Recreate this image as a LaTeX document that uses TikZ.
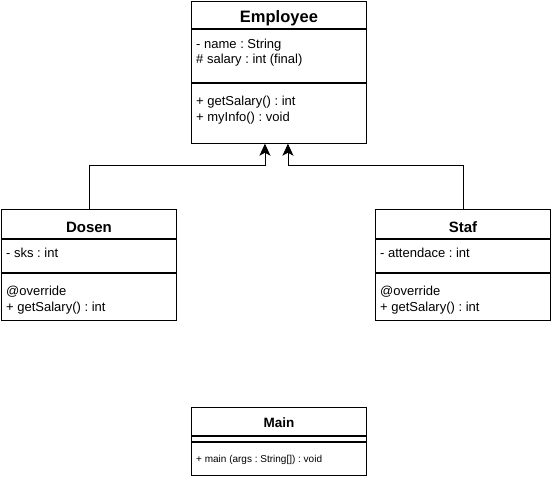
\documentclass[tikz,border=0pt]{standalone}
\usepackage{fontspec}
\setmainfont{Liberation Sans}
\usetikzlibrary{arrows.meta, positioning}
\frenchspacing

\tikzset{
  classhead/.style={draw=black, line width=0.9pt, minimum width=175pt, inner sep=0pt, font=\bfseries\fontsize{15}{17}\selectfont, text height=23pt, text depth=6pt},
  compart/.style={draw=black, line width=0.9pt, minimum width=175pt, inner sep=0pt},
  members/.style={inner sep=0pt, align=left, anchor=base west, font=\fontsize{13}{15.5}\selectfont},
  inherit/.style={line width=0.9pt, -{Stealth[length=12pt, width=11pt, inset=3pt]}}
}

\begin{document}
\begin{tikzpicture}[x=1pt, y=-1pt]
  \fill[white] (0,0) rectangle (553,478);
  \useasboundingbox (0,0) rectangle (553,478);

  % base anchor of a two-line text is the baseline of its last line
  \node[classhead, minimum height=27pt, anchor=north west, font=\bfseries\fontsize{16.5}{18}\selectfont, text height=21.5pt, text depth=5.5pt] (emphead) at (191,1) {Employee};
  \node[compart, minimum height=53pt, below=0pt of emphead] (empattr) {};
  \node[compart, minimum height=60pt, below=0pt of empattr] (empmeth) {};
  \node[members] (empattrtext) at ([shift={(5,35)}]empattr.north west) {- name : String\\\# salary : int (final)};
  \node[members] (empmethtext) at ([shift={(5,38.5)}]empmeth.north west) {+ getSalary() : int\\+ myInfo() : void};

  \node[classhead, minimum height=29pt, anchor=north west] (dosenhead) at (1,209) {Dosen};
  \node[compart, minimum height=33pt, below=0pt of dosenhead] (dosenattr) {};
  \node[compart, minimum height=47pt, below=0pt of dosenattr] (dosenmeth) {};
  \node[members] (dosenattrtext) at ([shift={(5,19)}]dosenattr.north west) {- sks : int};
  \node[members] (dosenmethtext) at ([shift={(5,38.5)}]dosenmeth.north west) {@override\\+ getSalary() : int};

  \node[classhead, minimum height=29pt, anchor=north west] (stafhead) at (375,209) {Staf};
  \node[compart, minimum height=33pt, below=0pt of stafhead] (stafattr) {};
  \node[compart, minimum height=47pt, below=0pt of stafattr] (stafmeth) {};
  \node[members] (stafattrtext) at ([shift={(5,19)}]stafattr.north west) {- attendace : int};
  \node[members] (stafmethtext) at ([shift={(5,38.5)}]stafmeth.north west) {@override\\+ getSalary() : int};

  \node[classhead, minimum height=28pt, anchor=north west, font=\bfseries\fontsize{13.5}{15}\selectfont, text height=20pt, text depth=8pt] (mainhead) at (191,407) {Main};
  \node[compart, minimum height=5pt, below=0pt of mainhead] (mainattr) {};
  \node[compart, minimum height=33pt, below=0pt of mainattr] (mainmeth) {};
  \node[members, font=\fontsize{10}{12}\selectfont] (mainmethtext) at ([shift={(5,21)}]mainmeth.north west) {+ main (args : String[]) : void};

  \draw[inherit] (dosenhead.north) -- ++(0,-44) -| ([xshift=-14pt]empmeth.south);
  \draw[inherit] (stafhead.north) -- ++(0,-44) -| ([xshift=9pt]empmeth.south);
\end{tikzpicture}
\end{document}
